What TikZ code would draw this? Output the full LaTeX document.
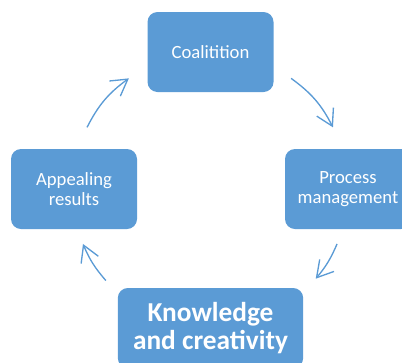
\documentclass[tikz,border=0pt]{standalone}
\usepackage{fontspec}
\setmainfont{Carlito}
\usepackage{xcolor}
\usepackage{tikz}
\usetikzlibrary{arrows.meta}
\definecolor{boxblue}{HTML}{5B9BD5}

\begin{document}
\begin{tikzpicture}[x=0.75pt, y=0.75pt, font=\fontsize{14}{15.2}\selectfont]
		\tikzstyle{box} = [fill=boxblue, rectangle, rounded corners=7.5pt, text=white, align=center, minimum width=94.5pt, minimum height=60pt]
		\tikzstyle{boxb} = [box, minimum width=139pt, font=\fontsize{20.5}{21.5}\selectfont\bfseries]
		\tikzstyle{arrow} = [draw=boxblue, line width=1pt, -{Straight Barb[length=12pt, width=14pt]}]
		
		\useasboundingbox (0, 0) rectangle (402, 362);
		
		\node[box]	at (210.5, 310)	(q0)	{Coalitition};
		\node[box]	at (348, 173)	(q1)	{Process\\management};
		\node[boxb]	at (210.5, 34)	(q2)	{Knowledge\\and creativity};
		\node[box]	at (74, 173)	(q3)	{Appealing\\results};
		
		\coordinate (o) at (210, 172);
		\coordinate (p0) at ([shift={(153:138)}]o);
		\coordinate (p1) at ([shift={(126:138)}]o);
		\coordinate (p2) at ([shift={(54:138)}]o);
		\coordinate (p3) at ([shift={(27:138)}]o);
		\coordinate (p4) at ([shift={(-23:138)}]o);
		\coordinate (p5) at ([shift={(-40:138)}]o);
		\coordinate (p6) at ([shift={(221:138)}]o);
		\coordinate (p7) at ([shift={(203:138)}]o);
		
		\draw [arrow] (p0) to[bend left=13.5] (p1);
		\draw [arrow] (p2) to[bend left=13.5] (p3);
		\draw [arrow] (p4) to[bend left=8.5] (p5);
		\draw [arrow] (p6) to[bend left=9] (p7);
		
	\end{tikzpicture}
\end{document}
